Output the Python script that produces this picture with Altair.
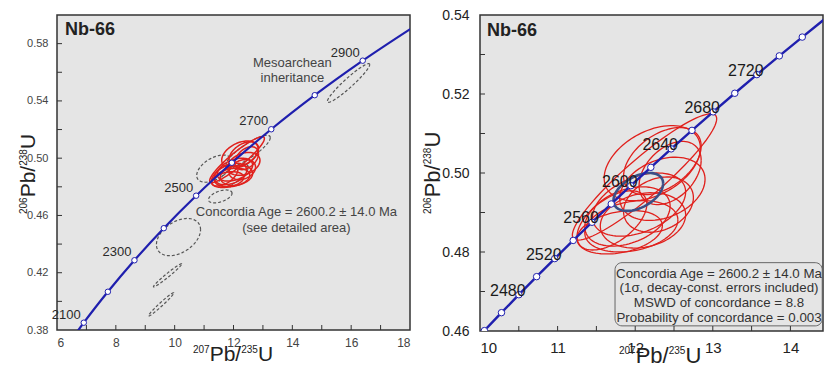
import numpy as np
import pandas as pd
import altair as alt

FONT = "Liberation Sans"

# ---------------- concordia (age Ma, 207Pb/235U, 206Pb/238U) ----------------
cc_age_L = [2000, 2100, 2200, 2300, 2400, 2500, 2600, 2700, 2800, 2900, 3000]
cc_x_L = [6.169, 6.910, 7.729, 8.633, 9.630, 10.730, 11.944, 13.283, 14.762, 16.393, 18.193]
cc_y_L = [0.3638, 0.3851, 0.4067, 0.4287, 0.4511, 0.4738, 0.4968, 0.5202, 0.5440, 0.5681, 0.5926]
lab_age_L = [2100, 2300, 2500, 2700, 2900]

cc_age_R = [2420, 2440, 2460, 2480, 2500, 2520, 2540, 2560, 2580, 2600,
            2620, 2640, 2660, 2680, 2700, 2720, 2740, 2760, 2780, 2800]
cc_x_R = [9.8410, 10.0567, 10.2766, 10.5008, 10.7297, 10.9630, 11.2010, 11.4437, 11.6912, 11.9437,
          12.2012, 12.4638, 12.7316, 13.0048, 13.2834, 13.5675, 13.8573, 14.1528, 14.4542, 14.7616]
cc_y_R = [0.45558, 0.46010, 0.46464, 0.46919, 0.47376, 0.47833, 0.48293, 0.48753, 0.49216, 0.49679,
          0.50144, 0.50611, 0.51079, 0.51548, 0.52019, 0.52491, 0.52965, 0.53441, 0.53917, 0.54396]
lab_age_R = [2480, 2520, 2560, 2600, 2640, 2680, 2720]

# ---------------- analyses: error ellipses (centre, half-widths, rho) ----------------
red_cx = [12.12, 12.22, 12.35, 12.45, 12.35, 12.05, 11.90, 11.95, 11.80, 12.10, 11.70, 12.30]
red_cy = [0.4990, 0.5025, 0.5030, 0.5000, 0.4960, 0.4920, 0.4890, 0.4865, 0.4850, 0.4880, 0.4880, 0.4920]
red_sx = [0.93, 0.62, 0.50, 0.40, 0.55, 0.60, 0.55, 0.60, 0.55, 0.55, 0.45, 0.45]
red_sy = [0.0160, 0.0095, 0.0085, 0.0080, 0.0080, 0.0080, 0.0075, 0.0065, 0.0055, 0.0070, 0.0075, 0.0070]
red_rho = [0.92, 0.40, 0.45, 0.40, 0.30, 0.40, 0.35, 0.25, 0.30, 0.20, 0.55, 0.25]

gray_cx = [15.91, 12.50, 11.35, 11.55, 12.00, 10.13, 9.76, 9.54]
gray_cy = [0.5525, 0.5050, 0.4927, 0.4733, 0.4880, 0.4449, 0.4182, 0.3979]
gray_sx = [0.72, 0.75, 0.60, 0.40, 0.50, 0.75, 0.48, 0.43]
gray_sy = [0.0135, 0.0110, 0.0095, 0.0045, 0.0080, 0.0130, 0.0081, 0.0081]
gray_rho = [0.95, 0.85, 0.50, 0.50, 0.70, 0.40, 0.98, 0.98]

conc_cx, conc_cy, conc_sx, conc_sy, conc_rho = [12.04], [0.4952], [0.32], [0.0048], [0.45]

# ---------------- ticks / texts ----------------
xL_labels = [6, 8, 10, 12, 14, 16, 18]
yL_labels = [0.38, 0.42, 0.46, 0.50, 0.54, 0.58]
xL_ticks = [7, 8, 9, 10, 11, 12, 13, 14, 15, 16, 17]
yL_ticks = [0.40, 0.42, 0.44, 0.46, 0.48, 0.50, 0.52, 0.54, 0.56, 0.58]
xR_labels = [10, 11, 12, 13, 14]
yR_labels = [0.46, 0.48, 0.50, 0.52, 0.54]
xR_ticks = [10.5, 11, 11.5, 12, 12.5, 13, 13.5, 14]
yR_ticks = [0.47, 0.48, 0.49, 0.50, 0.51, 0.52, 0.53]

note_L_text = ["Mesoarchean", "inheritance", "Concordia Age = 2600.2 ± 14.0 Ma", "(see detailed area)"]
note_L_x = [14.0, 14.0, 14.14, 14.14]
note_L_y = [0.5667, 0.5561, 0.4621, 0.4509]

box_text = ["Concordia Age = 2600.2 ± 14.0 Ma", "(1σ, decay-const. errors included)",
            "MSWD of concordance = 8.8", "Probability of concordance = 0.003"]
box_x = [13.08, 13.08, 13.08, 13.08]
box_y = [0.4744, 0.4708, 0.4671, 0.4634]
box_x0, box_x1, box_y0, box_y1 = [11.74], [14.41], [0.4613], [0.4773]

# axis titles: (text, superscript?)
XT = [("207", True), ("Pb/", False), ("235", True), ("U", False)]
YT = [("206", True), ("Pb/", False), ("238", True), ("U", False)]

RED = "#e0201c"
GRAY = "#555555"
BLUE = "#1f1fae"
NAVY = "#3b4f86"

CW = {"P": 0.667, "b": 0.556, "/": 0.278, "U": 0.722}


def text_w(s, fs):
    return sum(CW.get(c, 0.556) for c in s) * fs


def title_layers(parts, horizontal, start, base, big, sup):
    rows, pos = [], start
    step = 1 if horizontal else -1
    for s, is_sup in parts:
        fs = sup if is_sup else big
        rows.append({"t": s, "p": pos, "sup": is_sup})
        pos += step * text_w(s, fs)
    df = pd.DataFrame(rows)
    shift = 0.716 * (big - sup)
    out = []
    for is_sup, fs in [(False, big), (True, sup)]:
        d = df[df.sup == is_sup]
        b = base - shift if is_sup else base
        if horizontal:
            ch = alt.Chart(d).mark_text(align="left", baseline="alphabetic", fontSize=fs, font=FONT,
                                        color="#222222").encode(
                x=alt.X("p:Q", scale=None), y=alt.value(b), text="t:N")
        else:
            ch = alt.Chart(d).mark_text(align="left", baseline="alphabetic", fontSize=fs, font=FONT,
                                        angle=270, color="#222222").encode(
                y=alt.Y("p:Q", scale=None), x=alt.value(b), text="t:N")
        out.append(ch)
    return out


def ellipses(cx, cy, sx, sy, rho, tag):
    t = np.linspace(0, 2 * np.pi, 91)
    rows = []
    for i in range(len(cx)):
        xs = cx[i] + sx[i] * np.cos(t)
        ys = cy[i] + sy[i] * (rho[i] * np.cos(t) + np.sqrt(1 - rho[i] ** 2) * np.sin(t))
        for k in range(len(t)):
            rows.append({"x": xs[k], "y": ys[k], "id": f"{tag}{i}", "o": k})
    return pd.DataFrame(rows)


red_df = ellipses(red_cx, red_cy, red_sx, red_sy, red_rho, "r")
gray_df = ellipses(gray_cx, gray_cy, gray_sx, gray_sy, gray_rho, "g")
conc_df = ellipses(conc_cx, conc_cy, conc_sx, conc_sy, conc_rho, "c")

ccL = pd.DataFrame({"age": cc_age_L, "x": cc_x_L, "y": cc_y_L})
ccR = pd.DataFrame({"age": cc_age_R, "x": cc_x_R, "y": cc_y_R})


def panel(xdom, ydom, W, H, xlabels, ylabels, xticks, yticks, lab_fs, xl_pad, yl_pad, lab_color):
    xs = alt.Scale(domain=xdom, nice=False, zero=False)
    ys = alt.Scale(domain=ydom, nice=False, zero=False)
    xa = alt.Axis(values=xlabels, format="d", labelFontSize=lab_fs[0], labelColor=lab_color,
                  labelFont=FONT, ticks=False, domain=False, grid=False, labelPadding=xl_pad,
                  title=None)
    ya = alt.Axis(values=ylabels, format=".2f", labelFontSize=lab_fs[1], labelColor=lab_color,
                  labelFont=FONT, ticks=False, domain=False, grid=False, labelPadding=yl_pad,
                  title=None)

    def X(f="x"):
        return alt.X(f"{f}:Q", scale=xs, axis=xa)

    def Y(f="y"):
        return alt.Y(f"{f}:Q", scale=ys, axis=ya)

    xt = alt.Chart(pd.DataFrame({"x": xticks})).mark_rule(color="#333", strokeWidth=1).encode(
        x=X(), y=alt.value(H), y2=alt.value(H - 5))
    yt = alt.Chart(pd.DataFrame({"y": yticks})).mark_rule(color="#333", strokeWidth=1).encode(
        y=Y(), x=alt.value(0), x2=alt.value(5))
    return X, Y, [xt, yt]


# ---------------- left panel ----------------
WL, HL = 353, 315
XL, YL, ticksL = panel([6, 18], [0.38, 0.60], WL, HL, xL_labels, yL_labels, xL_ticks, yL_ticks,
                       (12, 11), 7, 9, "#444444")

left_layers = [
    alt.Chart(gray_df).mark_line(clip=True, color=GRAY, strokeWidth=1.2, strokeDash=[3, 2]).encode(
        x=XL(), y=YL(), detail="id:N", order="o:Q"),
    alt.Chart(red_df).mark_line(clip=True, color=RED, strokeWidth=1.5).encode(
        x=XL(), y=YL(), detail="id:N", order="o:Q"),
    alt.Chart(ccL).mark_line(clip=True, color=BLUE, strokeWidth=2.2, interpolate="monotone").encode(
        x=XL(), y=YL(), order="age:Q"),
    alt.Chart(ccL).transform_filter("datum.age >= 2100 && datum.age <= 2900").mark_point(
        clip=True, shape="circle", filled=True, fill="white", stroke=BLUE, strokeWidth=1, size=30,
        opacity=1).encode(x=XL(), y=YL()),
    alt.Chart(ccL[ccL.age.isin(lab_age_L)]).mark_text(
        align="right", baseline="middle", dx=-3, dy=-8, fontSize=13, font=FONT, color="#2a2a2a").encode(
        x=XL(), y=YL(), text="age:N"),
    alt.Chart(pd.DataFrame({"t": note_L_text, "x": note_L_x, "y": note_L_y})).mark_text(
        align="center", baseline="middle", fontSize=13, font=FONT, color="#444444").encode(
        x=XL(), y=YL(), text="t:N"),
    alt.Chart(pd.DataFrame({"t": ["Nb-66"]})).mark_text(
        align="left", baseline="middle", fontSize=18, fontWeight="bold", font=FONT, color="#222").encode(
        x=alt.value(8), y=alt.value(15), text="t:N"),
] + ticksL \
  + title_layers(XT, True, 136, HL + 31, 21, 10) \
  + title_layers(YT, False, 199, -22, 21, 10)

left = alt.layer(*left_layers).properties(width=WL, height=HL)

# ---------------- right panel ----------------
WR, HR = 343, 316
XR, YR, ticksR = panel([10, 14.42], [0.46, 0.54], WR, HR, xR_labels, yR_labels, xR_ticks, yR_ticks,
                       (15, 14), 9, 11, "#222222")

right_layers = [
    alt.Chart(red_df).mark_line(clip=True, color=RED, strokeWidth=1.3).encode(
        x=XR(), y=YR(), detail="id:N", order="o:Q"),
    alt.Chart(conc_df).mark_line(clip=True, color=NAVY, strokeWidth=2.6).encode(
        x=XR(), y=YR(), detail="id:N", order="o:Q"),
    alt.Chart(ccR).mark_line(clip=True, color=BLUE, strokeWidth=2.4, interpolate="monotone").encode(
        x=XR(), y=YR(), order="age:Q"),
    alt.Chart(ccR).transform_filter("datum.age >= 2440 && datum.age <= 2760").mark_point(
        clip=True, shape="circle", filled=True, fill="white", stroke=BLUE, strokeWidth=1, size=42,
        opacity=1).encode(x=XR(), y=YR()),
    alt.Chart(ccR[ccR.age.isin(lab_age_R)]).mark_text(
        align="center", baseline="middle", dx=-11, dy=-4, fontSize=16, font=FONT, color="#1a1a1a").encode(
        x=XR(), y=YR(), text="age:N"),
    alt.Chart(pd.DataFrame({"x": box_x0, "x2": box_x1, "y": box_y0, "y2": box_y1})).mark_rect(
        fill="white", fillOpacity=0.0, stroke="#666", strokeWidth=1, cornerRadius=7).encode(
        x=XR(), x2="x2:Q", y=YR(), y2="y2:Q"),
    alt.Chart(pd.DataFrame({"t": box_text, "x": box_x, "y": box_y})).mark_text(
        align="center", baseline="middle", fontSize=13.3, font=FONT, color="#333333").encode(
        x=XR(), y=YR(), text="t:N"),
    alt.Chart(pd.DataFrame({"t": ["Nb-66"]})).mark_text(
        align="left", baseline="middle", fontSize=18, fontWeight="bold", font=FONT, color="#222").encode(
        x=alt.value(7), y=alt.value(16), text="t:N"),
] + ticksR \
  + title_layers(XT, True, 139, HR + 32, 22, 10) \
  + title_layers(YT, False, 199, -40, 22, 10)

right = alt.layer(*right_layers).properties(width=WR, height=HR)

chart = alt.hconcat(left, right, spacing=70, bounds="flush").properties(
    padding={"left": 17, "top": 7, "right": 0, "bottom": 0},
    background="white",
).configure_view(fill="#e5e5e5", stroke="#333333", strokeWidth=1.5)

chart.save("out.html", embed_options={"renderer": "svg", "actions": False})
